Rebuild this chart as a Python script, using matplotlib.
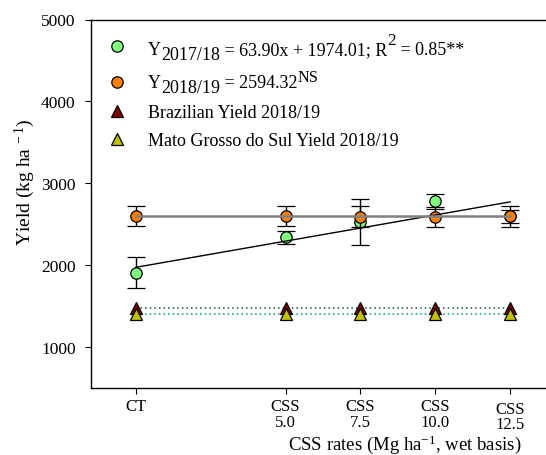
import numpy as np
import matplotlib
matplotlib.use("Agg")
import matplotlib.pyplot as plt
from matplotlib.transforms import ScaledTranslation

plt.rcParams['font.family'] = ['Liberation Serif', 'DejaVu Serif']
plt.rcParams['mathtext.fontset'] = 'custom'
plt.rcParams['mathtext.rm'] = 'Liberation Serif'
plt.rcParams['mathtext.it'] = 'Liberation Serif:italic'
plt.rcParams['mathtext.bf'] = 'Liberation Serif:bold'

# CSS application rates (Mg ha-1); CT = control treatment at 0
rates = [0.0, 5.0, 7.5, 10.0, 12.5]
tick_labels = ['CT', 'CSS\n5.0', 'CSS\n7.5', 'CSS\n10.0', 'CSS\n12.5']

# Yield, season 2017/18
yield_1718 = [1910, 2340, 2530, 2778, 2595]
err_1718 = [190, 78, 280, 95, 75]

# Yield, season 2018/19
yield_1819 = [2598, 2596, 2592, 2590, 2595]
err_1819 = [123, 123, 125, 125, 123]

# Reference yields 2018/19
brazil_yield = 1475
ms_yield = 1405

# Fitted models
fit_1718 = [63.90, 1974.01]
mean_1819 = 2594.32

GREEN, ORANGE, DARKRED, OLIVE = '#80ff80', '#ff8000', '#800000', '#c0c000'

fig = plt.figure(figsize=(5.46, 4.56), dpi=100)
ax = fig.add_axes([91 / 546, 1 - 389 / 456, 1 - 91 / 546, (389 - 20.5) / 456])

# 2017/18 season
ax.errorbar(rates, yield_1718, yerr=err_1718, fmt='o', color='black',
            mfc=GREEN, mec='black', ms=8.2, mew=0.9, ecolor='black',
            elinewidth=1.0, capsize=6.5, capthick=1.0, zorder=3)
# 2018/19 season
ax.errorbar(rates, yield_1819, yerr=err_1819, fmt='o', color='black',
            mfc=ORANGE, mec='black', ms=8.2, mew=0.9, ecolor='black',
            elinewidth=1.0, capsize=6.5, capthick=1.0, zorder=4)

xr = np.array([rates[0], rates[-1]])
ax.plot(xr, np.polyval(fit_1718, xr), color='black', lw=1.0, zorder=5)
ax.plot(xr, [mean_1819, mean_1819], color='#808080', lw=1.8, zorder=5)

# Regional reference yields
ax.plot(rates, [brazil_yield] * len(rates), ls=(0, (1, 2)), color='#1f4f45', lw=1.1, zorder=2)
ax.plot(rates, [ms_yield] * len(rates), ls=(0, (1, 2)), color='#00a080', lw=1.1, zorder=2)
ax.plot(rates, [brazil_yield] * len(rates), ls='none', marker='^', ms=9,
        mfc=DARKRED, mec='black', mew=0.9, zorder=6)
ax.plot(rates, [ms_yield] * len(rates), ls='none', marker='^', ms=9,
        mfc=OLIVE, mec='black', mew=0.9, zorder=7)

ax.set_xlim(-1.5, 13.7)
ax.set_ylim(500, 5000)
ax.set_yticks([1000, 2000, 3000, 4000, 5000])
ax.set_xticks(rates)
ax.set_xticklabels(tick_labels, fontsize=12, linespacing=0.95)
ax.tick_params(axis='y', labelsize=12.5, length=4, width=0.8, pad=7)
ax.tick_params(axis='x', length=4, width=0.8, pad=3.5)
ax.spines['right'].set_visible(False)
for s in ['left', 'bottom', 'top']:
    ax.spines[s].set_linewidth(1.0)

# last category label sits a little lower
last = ax.get_xticklabels()[-1]
last.set_transform(last.get_transform() + ScaledTranslation(0, -1.5 / 72, fig.dpi_scale_trans))

ax.set_ylabel(r'Yield (kg ha$^{\ -1}$)', fontsize=14)
ax.yaxis.set_label_coords(-0.119, 0.56)
ax.set_xlabel(r'CSS rates (Mg ha$^{-1}$, wet basis)', fontsize=13.5)
ax.xaxis.set_label_coords(0.69, -0.12)

# Legend: markers plus text built from pieces so sub/superscripts stay full size
FS = 13
mk_x = 0.057
txt_x = 0.1253
rows = [
    (0.928, 0.9064, dict(marker='o', ms=8.2, mfc=GREEN),
     [('Y', 0, 1.0), ('2017/18', -3.6, 1.0), (' = 63.90x + 1974.01; R', 0, 1.0),
      ('2', 7.0, 0.95), (' = 0.85**', 0, 1.0)]),
    (0.830, 0.816, dict(marker='o', ms=8.2, mfc=ORANGE),
     [('Y', 0, 1.0), ('2018/19', -3.6, 1.0), (' = 2594.32', 0, 1.0), ('NS', 4.8, 0.9)]),
    (0.7525, 0.736, dict(marker='^', ms=9, mfc=DARKRED),
     [('Brazilian Yield 2018/19', 0, 1.0)]),
    (0.6757, 0.659, dict(marker='^', ms=9, mfc=OLIVE),
     [('Mato Grosso do Sul Yield 2018/19', 0, 1.0)]),
]
for mk_y, base_y, mstyle, pieces in rows:
    ax.plot([mk_x], [mk_y], ls='none', mec='black', mew=0.9,
            transform=ax.transAxes, clip_on=False, zorder=8, **mstyle)
    prev = None
    for text, dy, scale in pieces:
        if prev is None:
            prev = ax.text(txt_x, base_y, text, transform=ax.transAxes,
                           fontsize=FS * scale, ha='left', va='baseline')
        else:
            prev = ax.annotate(text, xy=(1, base_y), xycoords=(prev, 'axes fraction'),
                               xytext=(0, dy), textcoords='offset points',
                               fontsize=FS * scale, ha='left', va='baseline')

fig.savefig('out.png', dpi=100)
